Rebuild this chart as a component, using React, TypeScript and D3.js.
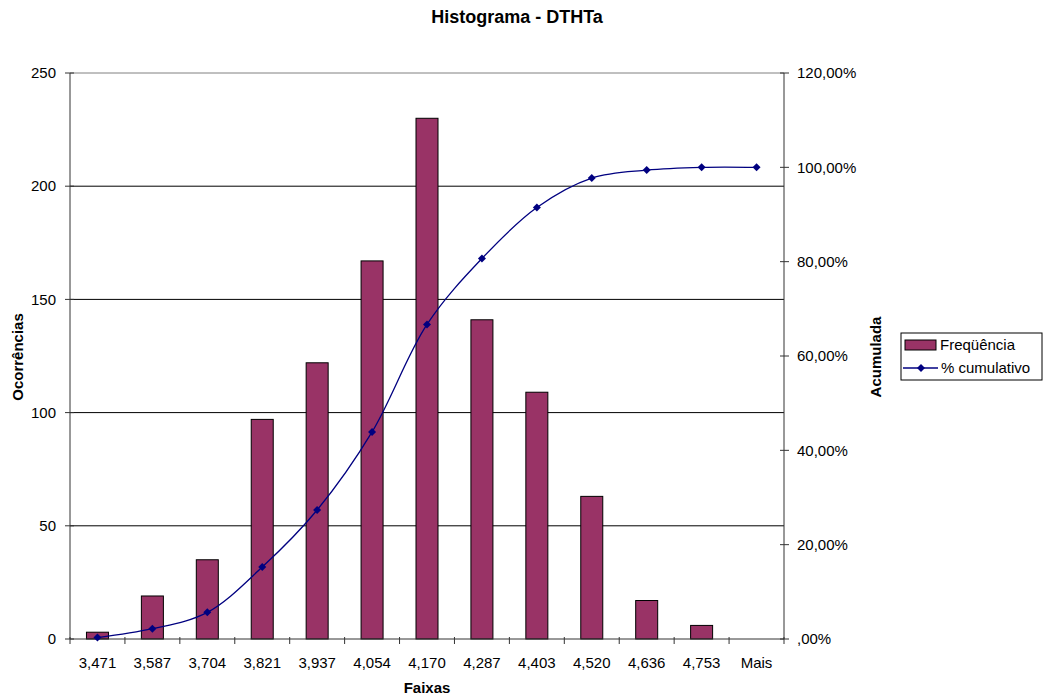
import React from "react";
import * as d3 from "d3";

const categories = ["3,471", "3,587", "3,704", "3,821", "3,937", "4,054", "4,170", "4,287", "4,403", "4,520", "4,636", "4,753", "Mais"];
const frequencia = [3, 19, 35, 97, 122, 167, 230, 141, 109, 63, 17, 6, 0];
const cumulativo = [0.30, 2.18, 5.65, 15.26, 27.35, 43.90, 66.70, 80.67, 91.48, 97.72, 99.41, 100, 100];
const leftTicks = [0, 50, 100, 150, 200, 250];
const rightTicks = [0, 20, 40, 60, 80, 100, 120];

const W = 1045, H = 698;
const L = 70, R = 784, T = 73, B = 639;
const FONT = "'Liberation Sans', Arial, sans-serif";
const FS = 15;

export default function App() {
  const x = d3.scaleBand<string>().domain(categories).range([L, R]).paddingInner(0).paddingOuter(0);
  const y = d3.scaleLinear().domain([0, 250]).range([B, T]);
  const y2 = d3.scaleLinear().domain([0, 120]).range([B, T]);
  const barW = 22;
  const line = d3.line<number>()
    .x((_, i) => (x(categories[i]) as number) + x.bandwidth() / 2)
    .y((d) => y2(d))
    .curve(d3.curveCatmullRom.alpha(0.5));
  const fmtPct = (v: number) => (v === 0 ? ",00%" : `${v},00%`);
  const diamond = (cx: number, cy: number, r = 4) => `M${cx},${cy - r}L${cx + r},${cy}L${cx},${cy + r}L${cx - r},${cy}Z`;

  return (
    <svg width={W} height={H} style={{ position: "absolute", left: 0, top: 0, background: "#fff" }} fontFamily={FONT}>
      <text x={517} y={23} textAnchor="middle" fontSize={18} fontWeight="bold">Histograma - DTHTa</text>
      {/* gridlines */}
      {leftTicks.filter((t) => t > 0).map((t) => (
        <line key={t} x1={L} x2={R} y1={y(t)} y2={y(t)} stroke={t === 250 ? "#808080" : "#000"} strokeWidth={1} />
      ))}
      {/* bars */}
      {frequencia.map((v, i) => {
        const cx = (x(categories[i]) as number) + x.bandwidth() / 2;
        if (v <= 0) return null;
        return <rect key={i} x={cx - barW / 2} y={y(v)} width={barW} height={B - y(v)} fill="#993366" stroke="#000" strokeWidth={1} />;
      })}
      {/* axes */}
      <line x1={L} x2={L} y1={T} y2={B} stroke="#333" />
      <line x1={R} x2={R} y1={T} y2={B} stroke="#333" />
      <line x1={L} x2={R} y1={B} y2={B} stroke="#333" />
      {leftTicks.map((t) => (
        <g key={t}>
          <line x1={L - 5} x2={L + 4} y1={y(t)} y2={y(t)} stroke="#333" />
          <text x={L - 14} y={y(t)} dy="0.35em" textAnchor="end" fontSize={FS}>{t}</text>
        </g>
      ))}
      {rightTicks.map((t) => (
        <g key={t}>
          <line x1={R - 4} x2={R + 5} y1={y2(t)} y2={y2(t)} stroke="#333" />
          <text x={R + 13} y={y2(t)} dy="0.35em" textAnchor="start" fontSize={FS}>{fmtPct(t)}</text>
        </g>
      ))}
      {categories.map((c, i) => (
        <g key={c}>
          <line x1={(x(c) as number)} x2={(x(c) as number)} y1={B - 2} y2={B + 5} stroke="#333" />
          {i === categories.length - 1 && (
            <line x1={R} x2={R} y1={B - 2} y2={B + 5} stroke="#333" />
          )}
          <text x={(x(c) as number) + x.bandwidth() / 2} y={668} textAnchor="middle" fontSize={FS}>{c}</text>
        </g>
      ))}
      {/* cumulative line */}
      <path d={line(cumulativo) || ""} fill="none" stroke="#000080" strokeWidth={1.3} />
      {cumulativo.map((v, i) => (
        <path key={i} d={diamond((x(categories[i]) as number) + x.bandwidth() / 2, y2(v))} fill="#000080" />
      ))}
      {/* axis titles */}
      <text x={427} y={693} textAnchor="middle" fontSize={FS} fontWeight="bold">Faixas</text>
      <text transform={`translate(23,357) rotate(-90)`} textAnchor="middle" fontSize={FS} fontWeight="bold">Ocorrências</text>
      <text transform={`translate(881,357) rotate(-90)`} textAnchor="middle" fontSize={FS} fontWeight="bold">Acumulada</text>
      {/* legend */}
      <rect x={901} y={333} width={141} height={47} fill="#fff" stroke="#000" />
      <rect x={905} y={340} width={31} height={10} fill="#993366" stroke="#000" />
      <text x={940} y={345} dy="0.35em" fontSize={FS}>Freqüência</text>
      <line x1={903} x2={938} y1={368} y2={368} stroke="#000080" strokeWidth={1.3} />
      <path d={diamond(921, 368)} fill="#000080" />
      <text x={941} y={368} dy="0.35em" fontSize={FS}>% cumulativo</text>
    </svg>
  );
}
